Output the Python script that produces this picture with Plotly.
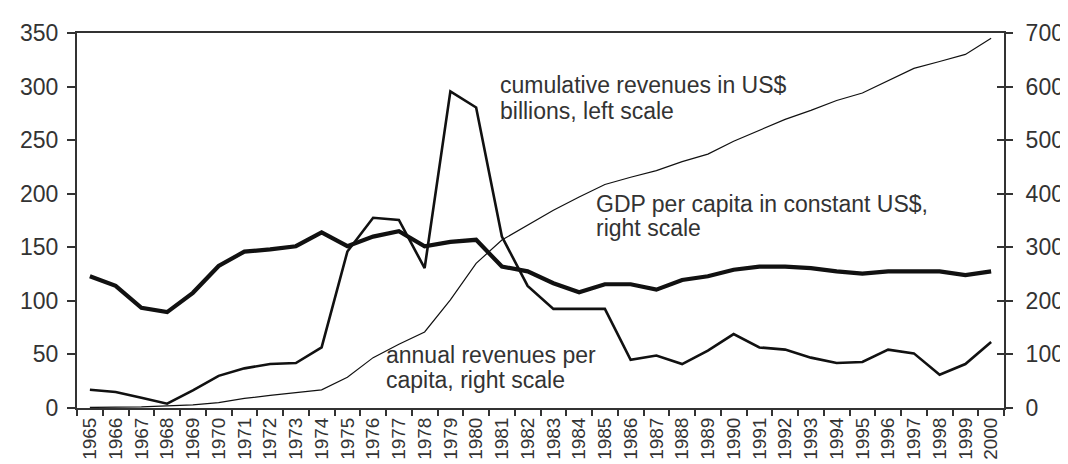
import plotly.graph_objects as go

years = [str(y) for y in range(1965, 2001)]

# cumulative revenues, US$ billions (left scale)
cumulative = [0.5, 0.5, 1, 2, 3, 5, 9, 11.7, 14, 17, 28.7, 47, 59.5, 71, 101, 135,
              156.8, 170.7, 184.5, 197, 208.6, 215.4, 221.6, 230, 237, 249, 259,
              269.4, 277.8, 287, 294, 305.6, 317, 323.4, 330, 345]

# GDP per capita in constant US$ (right scale)
gdp = [246, 228, 187, 179, 215, 265, 292, 296, 302, 328, 302, 320, 330, 302, 310,
       314, 264, 255, 233, 216, 231, 231, 221, 239, 246, 258, 264, 264, 261, 255,
       251, 255, 255, 255, 248, 255]

# annual revenues per capita (right scale)
annual = [34, 30, 19, 8, 33, 60, 74, 82, 84, 113, 292, 355, 351, 261, 591, 561,
          320, 228, 185, 185, 185, 90, 98, 82, 107, 138, 113, 109, 94, 84, 86,
          109, 102, 62, 82, 123]

left_ticks = [0, 50, 100, 150, 200, 250, 300, 350]
right_ticks = [0, 100, 200, 300, 400, 500, 600, 700]

ink = "#111111"
txt = "#333333"
font = "Liberation Sans, Arial, sans-serif"

fig = go.Figure()
fig.add_trace(go.Scatter(x=years, y=cumulative, mode="lines", yaxis="y",
                         line=dict(color=ink, width=1.2), showlegend=False))
fig.add_trace(go.Scatter(x=years, y=annual, mode="lines", yaxis="y2",
                         line=dict(color=ink, width=2.6), showlegend=False))
fig.add_trace(go.Scatter(x=years, y=gdp, mode="lines", yaxis="y2",
                         line=dict(color=ink, width=4.2), showlegend=False))
# dummy trace to activate yaxis3 (inside half of the right-axis crossing ticks)
fig.add_trace(go.Scatter(x=[years[0]], y=[None], yaxis="y3", mode="lines",
                         showlegend=False, hoverinfo="skip"))

W, H = 1068, 464
L, R, T, B = 68, 61, 23, 63
pw, ph = W - L - R, H - T - B

def px(xp):
    return (xp - L) / pw

def py(yp):
    return (H - B - yp) / ph

fig.update_layout(
    width=W, height=H,
    margin=dict(l=L, r=R, t=T, b=B),
    paper_bgcolor="white", plot_bgcolor="white",
    font=dict(family=font, color=txt, size=22),
    xaxis=dict(type="category", tickson="boundaries", ticks="outside", ticklen=6,
               tickwidth=1.5, tickcolor=txt, tickangle=-90,
               tickfont=dict(size=19), showline=True, linecolor=txt, linewidth=2,
               mirror=True, showgrid=False, zeroline=False,
               range=[-0.5, len(years) - 0.5]),
    yaxis=dict(range=[0, 350], tickvals=left_ticks, ticks="outside", ticklen=8,
               tickwidth=1.5, tickcolor=txt, showline=True, linecolor=txt,
               linewidth=2, showgrid=False, zeroline=False,
               ticklabelstandoff=4, tickfont=dict(size=23)),
    yaxis2=dict(range=[0, 700], tickvals=right_ticks, overlaying="y", side="right",
                anchor="x", ticks="outside", ticklen=7, tickwidth=1.5,
                tickcolor=txt, showline=True, linecolor=txt, linewidth=2,
                showgrid=False, zeroline=False, ticklabelstandoff=8,
                tickfont=dict(size=23)),
    yaxis3=dict(range=[0, 700], tickvals=right_ticks, overlaying="y", side="right",
                anchor="x", ticks="inside", ticklen=7, tickwidth=1.5,
                tickcolor=txt, showline=False, showticklabels=False,
                showgrid=False, zeroline=False),
)

annots = [
    ("cumulative revenues in US$", 494, 75),
    ("billions, left scale", 494, 102),
    ("GDP per capita in constant US$,", 592, 195),
    ("right scale", 592, 220),
    ("annual revenues per", 379, 348),
    ("capita, right scale", 379, 373),
]
for text, xp, yp in annots:
    fig.add_annotation(text=text, xref="paper", yref="paper", x=px(xp), y=py(yp),
                       xanchor="left", yanchor="middle", align="left",
                       showarrow=False, font=dict(size=23, color=txt))

fig.write_html("out.html")
